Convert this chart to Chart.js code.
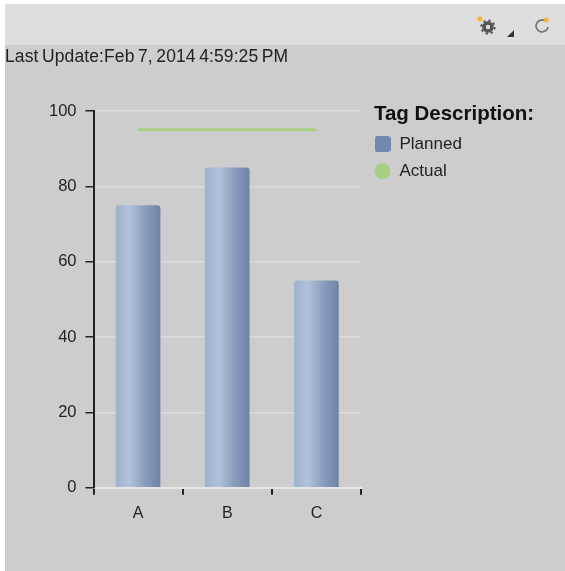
<!DOCTYPE html>
<html>
<head>
<meta charset="utf-8">
<script src="https://cdn.jsdelivr.net/npm/chart.js@4"></script>
<style>
  html, body { margin: 0; padding: 0; background: #fff; }
  #panel { position: absolute; left: 5px; top: 4px; width: 560px; height: 567px; background: #cdcdcd; filter: blur(0.4px); }
  #toolbar { position: absolute; left: 0; top: 0; width: 560px; height: 41px; background: #dedede; }
  #toolbar svg { position: absolute; }
  #lastUpdate { position: absolute; left: 0; top: 42px; font: 17.5px "Liberation Sans", sans-serif; letter-spacing: 0.11px; word-spacing: -1.5px; color: #222; }
  #chartBox { position: absolute; left: 0; top: 0; width: 565px; height: 571px; filter: blur(0.4px); }
</style>
</head>
<body>
<div id="panel">
  <div id="toolbar">
    <svg style="left:470px;top:11px" width="24" height="22" viewBox="0 0 24 22">
      <circle cx="13" cy="12" r="4" fill="none" stroke="#555" stroke-width="3.6"/>
      <circle cx="13" cy="12" r="6.6" fill="none" stroke="#555" stroke-width="2" stroke-dasharray="2.4 2.8"/>
      <circle cx="5" cy="4" r="2.6" fill="#f2b83c"/>
    </svg>
    <svg style="left:502px;top:26px" width="8" height="8" viewBox="0 0 8 8"><path d="M0 7 L7 7 L7 0 Z" fill="#333"/></svg>
    <svg style="left:528px;top:11px" width="20" height="22" viewBox="0 0 20 22">
      <path d="M12.5 6 A6 6 0 1 0 15 12" fill="none" stroke="#777" stroke-width="1.8"/>
      <circle cx="13.5" cy="5" r="2.4" fill="#f2b83c"/>
    </svg>
  </div>
  <div id="lastUpdate">Last Update:Feb 7, 2014 4:59:25 PM</div>
</div>
<div id="chartBox"><canvas id="tagChart" width="565" height="571"></canvas></div>
<script>
document.addEventListener('DOMContentLoaded', () => {
  const categories = ['A', 'B', 'C'];
  const plannedValues = [75, 85, 55];
  const actualValues = [95, 95, 95];
  const yTicks = [0, 20, 40, 60, 80, 100];

  const textColor = '#222222';
  const fontFamily = '"Liberation Sans", sans-serif';

  // each bar gets its own left to right shading
  const barGradient = (context) => {
    const chart = context.chart;
    if (!chart.chartArea || context.dataIndex === undefined) return '#7d94b8';
    const center = chart.scales.x.getPixelForValue(context.dataIndex);
    const half = chart.chartArea.width / categories.length * 0.25;
    const gradient = chart.ctx.createLinearGradient(center - half, 0, center + half, 0);
    gradient.addColorStop(0, '#9fb1cd');
    gradient.addColorStop(0.3, '#b3c2da');
    gradient.addColorStop(0.65, '#8a9ebd');
    gradient.addColorStop(1, '#6c84a9');
    return gradient;
  };

  // rectRounded comes out too small next to the circle, so use a little canvas
  const plannedSwatch = document.createElement('canvas');
  plannedSwatch.width = 16;
  plannedSwatch.height = 16;
  const swatchCtx = plannedSwatch.getContext('2d');
  swatchCtx.fillStyle = '#7288b0';
  swatchCtx.beginPath();
  swatchCtx.roundRect(0, 0, 16, 16, 3);
  swatchCtx.fill();

  // the legend sits a bit off the plot and its title is wider than its items
  const legendPlacement = {
    id: 'legendPlacement',
    afterLayout(chart) {
      const legend = chart.legend;
      legend.left = 364;
      legend.right = 544;
      legend.width = 180;
      legend.top = 104;
    }
  };

  new Chart(document.getElementById('tagChart').getContext('2d'), {
    type: 'bar',
    plugins: [legendPlacement],
    data: {
      labels: categories,
      datasets: [
        {
          type: 'line',
          label: 'Actual',
          data: actualValues,
          borderColor: '#a6cf82',
          backgroundColor: '#a6cf82',
          borderWidth: 3,
          pointRadius: 0,
          order: 0
        },
        {
          label: 'Planned',
          data: plannedValues,
          backgroundColor: barGradient,
          barPercentage: 0.5,
          categoryPercentage: 1,
          borderRadius: { topLeft: 3, topRight: 3 },
          borderSkipped: 'bottom',
          order: 1
        }
      ]
    },
    options: {
      responsive: false,
      animation: false,
      layout: { padding: { left: 40, top: 111, right: 97, bottom: 39 } },
      plugins: {
        tooltip: { enabled: false },
        legend: {
          position: 'right',
          align: 'start',
          title: {
            display: true,
            text: 'Tag Description:',
            color: '#111111',
            font: { family: fontFamily, size: 20.5, weight: 'bold' },
            padding: { top: 0, bottom: -3 }
          },
          labels: {
            usePointStyle: true,
            color: textColor,
            font: { family: fontFamily, size: 17 },
            boxWidth: 17,
            boxHeight: 11.3,
            padding: 10,
            generateLabels: () => [
              { text: 'Planned', fillStyle: '#7288b0', strokeStyle: '#7288b0', pointStyle: plannedSwatch, fontColor: textColor, lineWidth: 0 },
              { text: 'Actual', fillStyle: '#a6cf82', strokeStyle: '#a6cf82', pointStyle: 'circle', fontColor: textColor, lineWidth: 0 }
            ]
          }
        }
      },
      scales: {
        x: {
          offset: true,
          border: { color: '#e6e6e6', width: 2 },
          grid: {
            color: (context) => context.index === categories.length ? '#e6e6e6' : 'rgba(0,0,0,0)',
            tickColor: '#222222',
            tickLength: 7,
            lineWidth: 2,
            tickWidth: 2
          },
          ticks: { color: textColor, font: { family: fontFamily, size: 16 }, padding: 9 }
        },
        y: {
          min: 0,
          max: 100,
          afterBuildTicks: (axis) => { axis.ticks = yTicks.map(value => ({ value })); },
          border: { color: '#222222', width: 2 },
          grid: { color: '#dcdcdc', lineWidth: 1.5, tickColor: '#222222', tickLength: 8, tickWidth: 1.5 },
          ticks: { color: textColor, font: { family: fontFamily, size: 16.5 }, padding: 9 }
        }
      }
    }
  });
});
</script>
</body>
</html>
